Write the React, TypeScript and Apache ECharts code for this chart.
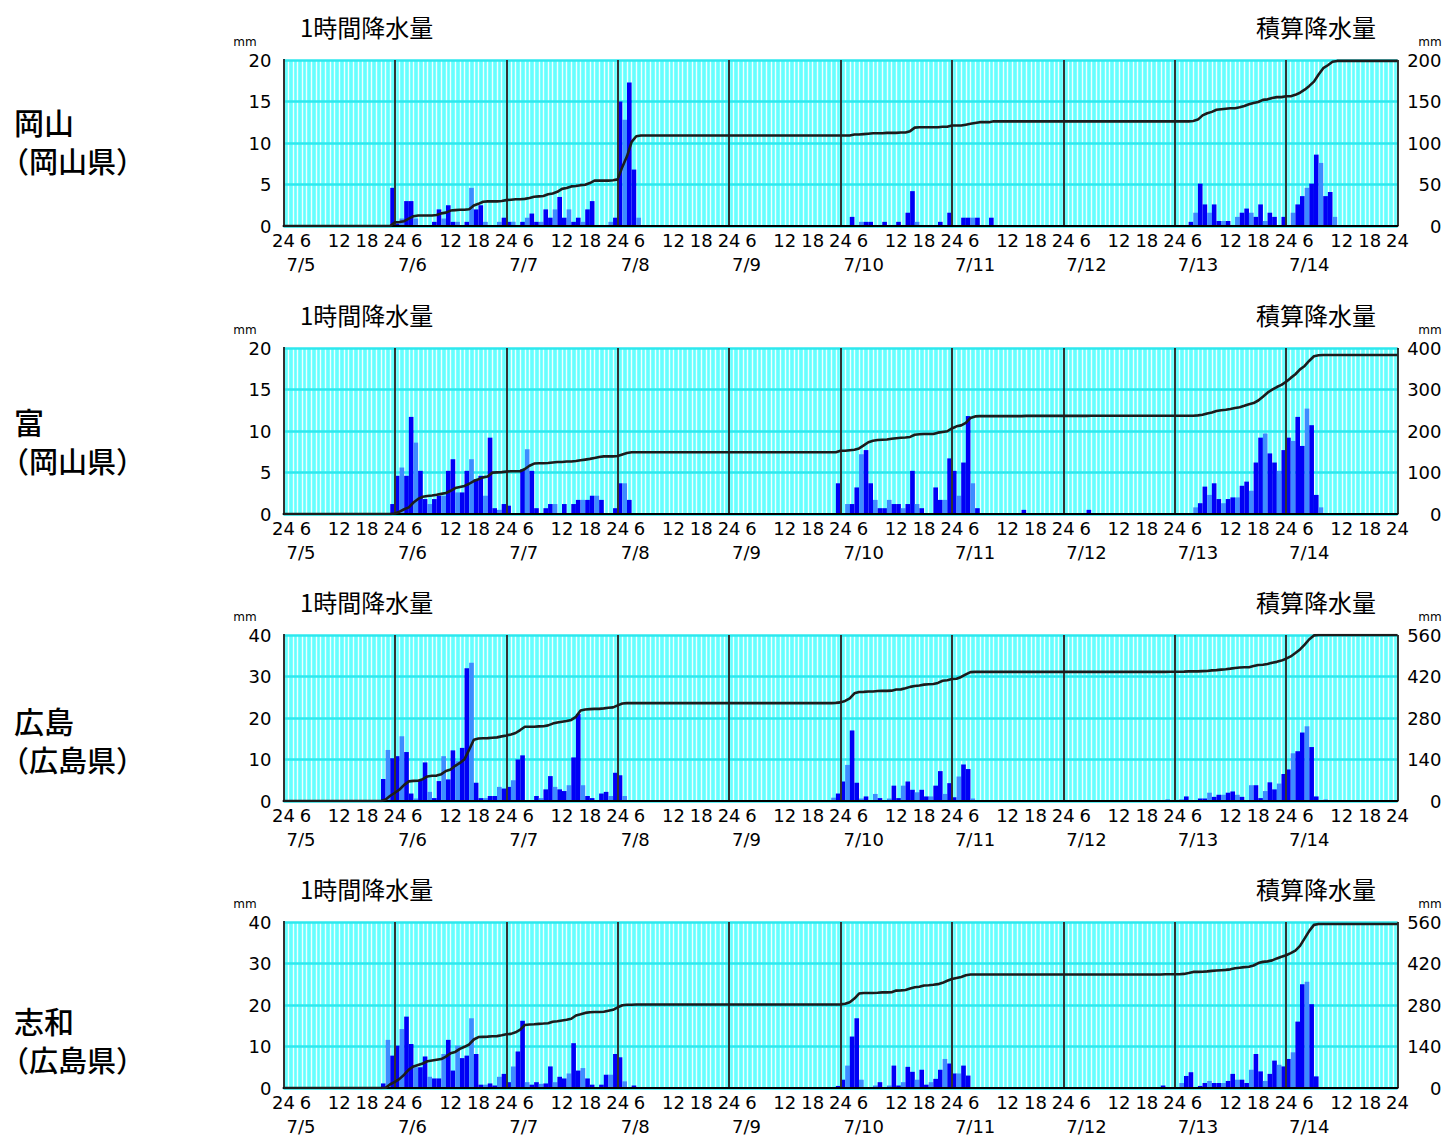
import React, { useEffect, useRef } from 'react';
import * as echarts from 'echarts';

const FONT = "'Noto Sans CJK JP', 'Noto Sans', sans-serif";
const NUM_FONT = "'DejaVu Sans', 'Liberation Sans', sans-serif";

// ---------- data ----------
const dates = ['7/5', '7/6', '7/7', '7/8', '7/9', '7/10', '7/11', '7/12', '7/13', '7/14'];
const hourTickNames = ['24', '6', '12', '18'];
const stations = ['岡山', '富', '広島', '志和'];
const prefectures = ['（岡山県）', '（岡山県）', '（広島県）', '（広島県）'];
const hourlyAxisMax = [20, 20, 40, 40];
const hourlyAxisStep = [5, 5, 10, 10];
const totalAxisMax = [200, 400, 560, 560];
const totalAxisStep = [50, 100, 140, 140];

// hourly rainfall (mm), one row per day 7/5 .. 7/14, trailing zeros omitted
const okayamaRain: number[][] = [
  [0, 0, 0, 0, 0, 0, 0, 0, 0, 0, 0, 0, 0, 0, 0, 0, 0, 0, 0, 0, 0, 0, 0, 4.6],
  [0.3, 0.9, 3.0, 3.0, 0.9, 0, 0, 0, 0.5, 2.0, 0.9, 2.5, 0.5, 0.5, 0, 0.5, 4.6, 2.0, 2.5, 0.5, 0, 0, 0.5, 1.0],
  [0.5, 0.5, 0, 0.5, 1.0, 1.5, 0.5, 0.5, 2.0, 1.0, 2.0, 3.5, 1.0, 2.0, 0.5, 1.0, 0.5, 2.0, 3.0, 0, 0, 0, 0.5, 1.0],
  [15.0, 12.8, 17.3, 6.8, 1.0],
  [],
  [0, 0, 1.1, 0, 0.5, 0.5, 0.5, 0, 0, 0.5, 0, 0, 0.5, 0, 1.6, 4.2, 0.5, 0, 0, 0, 0, 0.5, 0, 1.6],
  [0, 0, 1.0, 1.0, 1.0, 1.0, 0, 0, 1.0],
  [],
  [0, 0, 0, 0.5, 1.6, 5.1, 2.6, 1.6, 2.6, 0.6, 0.6, 0.6, 0, 1.1, 1.6, 2.1, 1.6, 1.1, 2.6, 0.6, 1.6, 1.1, 0, 1.1],
  [0, 1.6, 2.6, 3.6, 4.6, 5.1, 8.6, 7.6, 3.6, 4.1, 1.1],
];

const tomiRain: number[][] = [
  [0, 0, 0, 0, 0, 0, 0, 0, 0, 0, 0, 0, 0, 0, 0, 0, 0, 0, 0, 0, 0, 0, 0, 1.2],
  [4.6, 5.6, 4.6, 11.7, 8.6, 5.2, 1.8, 1.2, 1.8, 2.2, 2.2, 5.2, 6.6, 2.6, 2.6, 5.2, 6.6, 4.2, 4.6, 2.2, 9.2, 0.7, 0.5, 1.2],
  [1.0, 0, 0, 5.4, 7.8, 5.2, 0.7, 0, 0.7, 1.2, 1.2, 0, 1.2, 0, 1.2, 1.7, 1.7, 1.7, 2.2, 2.2, 1.7, 0, 0, 0.7],
  [3.7, 3.7, 1.7],
  [0, 0, 0, 0, 0, 0, 0, 0, 0, 0, 0, 0, 0, 0, 0, 0, 0, 0, 0, 0, 0, 0, 0, 3.7],
  [0, 1.2, 1.2, 3.2, 7.2, 7.7, 3.7, 1.7, 0.7, 0.7, 1.7, 1.2, 1.2, 0.7, 1.2, 5.2, 1.2, 0.7, 0, 0, 3.2, 1.7, 1.7, 6.7],
  [5.2, 2.2, 6.2, 11.8, 3.7, 0.7, 0, 0, 0, 0, 0, 0, 0, 0, 0, 0.5],
  [0, 0, 0, 0, 0, 0.5],
  [0, 0, 0, 0, 0.8, 1.3, 3.3, 2.3, 3.7, 1.8, 1.3, 1.8, 2.0, 2.0, 3.4, 3.9, 2.8, 6.2, 9.2, 9.7, 7.3, 6.2, 5.2, 7.7],
  [9.2, 8.8, 11.7, 8.2, 12.7, 10.7, 2.3, 0.8],
];

const hiroshimaRain: number[][] = [
  [0, 0, 0, 0, 0, 0, 0, 0, 0, 0, 0, 0, 0, 0, 0, 0, 0, 0, 0, 0, 0, 5.3, 12.3, 10.3],
  [10.8, 15.6, 11.8, 1.8, 0.6, 5.0, 9.3, 2.2, 0.7, 4.8, 10.8, 5.2, 12.2, 9.6, 12.8, 32.0, 33.3, 4.4, 0.7, 0.7, 1.2, 1.2, 3.4, 3.0],
  [3.4, 5.0, 10.0, 11.0, 0, 0, 1.2, 0.7, 2.8, 6.0, 3.4, 2.8, 2.4, 3.8, 10.5, 21.0, 3.8, 1.2, 0.7, 0, 1.8, 2.2, 1.2, 6.8],
  [6.2, 1.2],
  [0, 0, 0, 0, 0, 0, 0, 0, 0, 0, 0, 0, 0, 0, 0, 0, 0, 0, 0, 0, 0, 0, 0.8, 1.8],
  [4.7, 8.7, 17.0, 4.4, 0.6, 1.1, 0, 1.7, 0.7, 0, 0.6, 3.7, 0.7, 3.7, 4.7, 2.7, 2.1, 2.7, 1.1, 1.1, 3.7, 7.2, 1.7, 4.3],
  [0.9, 5.9, 8.8, 7.7, 0.6],
  [0, 0, 0, 0, 0, 0, 0, 0, 0, 0, 0, 0, 0, 0, 0, 0, 0, 0, 0, 0, 0, 0, 0.4],
  [0, 0.4, 1.1, 0, 0, 0.6, 0.6, 2.0, 1.0, 1.5, 1.5, 2.0, 2.3, 1.5, 1.0, 0, 3.8, 3.8, 0.7, 2.4, 4.5, 2.8, 4.2, 6.5],
  [7.6, 11.5, 12.0, 16.5, 18.0, 13.0, 1.1, 0, 0.3],
];

const shiwaRain: number[][] = [
  [0, 0, 0, 0, 0, 0, 0, 0, 0, 0, 0, 0, 0, 0, 0, 0, 0, 0, 0, 0, 0, 1.1, 11.6, 7.8],
  [10.2, 14.2, 17.2, 10.6, 5.0, 5.0, 7.6, 2.7, 2.3, 2.3, 8.2, 11.6, 4.2, 10.2, 7.2, 7.8, 16.8, 8.2, 0.8, 0.8, 1.1, 0.6, 2.7, 3.4],
  [1.4, 5.2, 8.8, 16.2, 1.4, 0.8, 1.4, 1.0, 1.1, 5.2, 1.4, 2.7, 2.3, 3.5, 10.8, 4.2, 4.8, 2.3, 0.8, 0, 0.8, 3.2, 3.2, 8.2],
  [7.4, 1.6, 0, 0.6],
  [0, 0, 0, 0, 0, 0, 0, 0, 0, 0, 0, 0, 0, 0, 0, 0, 0, 0, 0, 0, 0, 0, 0, 0.5],
  [2.0, 5.4, 12.4, 16.8, 2.0, 0, 0, 0.6, 1.4, 0, 0.6, 5.4, 0.6, 1.4, 5.1, 3.9, 2.0, 4.4, 0.8, 1.4, 2.2, 4.4, 7.0, 5.9],
  [3.5, 3.5, 5.4, 3.0],
  [0, 0, 0, 0, 0, 0, 0, 0, 0, 0, 0, 0, 0, 0, 0, 0, 0, 0, 0, 0, 0, 0.6],
  [0, 1.2, 2.9, 3.8, 0, 0.5, 1.2, 1.7, 1.2, 1.2, 1.2, 1.7, 3.4, 2.0, 2.0, 1.2, 4.4, 8.2, 4.0, 1.7, 3.4, 6.6, 5.6, 5.2],
  [7.0, 8.6, 16.0, 25.0, 25.6, 20.2, 2.8],
];

const stationRain = [okayamaRain, tomiRain, hiroshimaRain, shiwaRain];

// ---------- layout ----------
const HOURS = 240;
const GRID_LEFT = 283.5;
const GRID_WIDTH = 1114;
const GRID_HEIGHT = 166;
const PANEL_TOPS = [60, 348, 635, 922];
const LABEL_MID_Y = [140.5, 440, 739, 1039];

const DARK_BLUE = '#0000f5';
const LIGHT_BLUE = '#3d8cff';

function flattenDays(days: number[][]): number[] {
  const out: number[] = [];
  days.forEach((d) => {
    for (let i = 0; i < 24; i++) out.push(i < d.length ? d[i] : 0);
  });
  return out;
}

function cumulative(hourly: number[]): number[][] {
  const pts: number[][] = [[0, 0]];
  let s = 0;
  hourly.forEach((v, i) => {
    s += v;
    pts.push([i + 1, Math.round(s * 10) / 10]);
  });
  return pts;
}

function textEl(text: string, x: number, y: number, size: number, align: string, family: string, weight: number | string = 'normal') {
  return {
    type: 'text',
    x,
    y,
    style: {
      text,
      fontSize: size,
      fontWeight: weight,
      fontFamily: family,
      fill: '#000',
      align,
      verticalAlign: 'middle',
      textAlign: align,
      textVerticalAlign: 'middle',
    },
  };
}

function stationLabel(name: string, pref: string, y: number) {
  return {
    type: 'text',
    x: 0,
    y,
    style: {
      text: '{n|' + name + '}\n{p|' + pref + '}',
      fill: '#000',
      align: 'left',
      verticalAlign: 'middle',
      textAlign: 'left',
      textVerticalAlign: 'middle',
      rich: {
        n: { fontSize: 30, fontWeight: 500, fontFamily: FONT, fill: '#000', lineHeight: 39, padding: [0, 0, 0, 14] },
        p: { fontSize: 29, fontWeight: 500, fontFamily: FONT, fill: '#000', lineHeight: 39 },
      },
    },
  };
}

function buildOption() {
  const grid: any[] = [];
  const xAxis: any[] = [];
  const yAxis: any[] = [];
  const series: any[] = [];
  const graphic: any[] = [];
  const categories = Array.from({ length: HOURS }, (_, i) => String(i));

  stations.forEach((name, k) => {
    const top = PANEL_TOPS[k];
    const hourly = flattenDays(stationRain[k]);
    grid.push({
      left: GRID_LEFT,
      top,
      width: GRID_WIDTH,
      height: GRID_HEIGHT,
      show: true,
      backgroundColor: '#66ffff',
      borderWidth: 0,
    });
    const xb = xAxis.length;
    // category axis for the bars
    xAxis.push({
      gridIndex: k,
      type: 'category',
      data: categories,
      boundaryGap: true,
      position: 'bottom',
      axisLine: { show: false, onZero: false },
      axisTick: { show: false },
      axisLabel: { show: false },
      splitLine: { show: false },
    });
    // hourly white grid lines
    xAxis.push({
      gridIndex: k,
      type: 'value',
      min: 0,
      max: HOURS,
      interval: 1,
      position: 'bottom',
      z: 0,
      axisLine: { show: false, onZero: false },
      axisTick: { show: false },
      axisLabel: { show: false },
      splitLine: { show: true, lineStyle: { color: '#ffffff', width: 1.4, opacity: 0.9 } },
    });
    // day lines + date labels
    xAxis.push({
      gridIndex: k,
      type: 'value',
      min: 0,
      max: HOURS,
      interval: 24,
      position: 'bottom',
      z: 3,
      axisLine: { show: true, onZero: false, lineStyle: { color: '#000', width: 2 } },
      axisTick: { show: false },
      axisLabel: {
        show: true,
        margin: 28,
        align: 'left',
        padding: [0, 0, 0, 3],
        fontSize: 18,
        lineHeight: 20,
        fontFamily: NUM_FONT,
        color: '#000',
        formatter: (v: number) => (v >= HOURS ? '' : dates[Math.round(v / 24)]),
      },
      splitLine: { show: true, lineStyle: { color: '#333', width: 2 } },
    });
    // hour labels
    xAxis.push({
      gridIndex: k,
      type: 'value',
      min: 0,
      max: HOURS,
      interval: 6,
      position: 'bottom',
      z: 3,
      axisLine: { show: false, onZero: false },
      axisTick: { show: false },
      axisLabel: {
        show: true,
        margin: 4,
        fontSize: 18,
        lineHeight: 20,
        fontFamily: NUM_FONT,
        color: '#000',
        formatter: (v: number) => {
          const t = hourTickNames[Math.round((v % 24) / 6)];
          return t === '6' ? '{s|6}' : t;
        },
        rich: {
          s: { fontSize: 18, lineHeight: 20, fontFamily: NUM_FONT, color: '#000', padding: [0, 12, 0, 0] },
        },
      },
      splitLine: { show: false },
    });

    const yb = yAxis.length;
    yAxis.push({
      gridIndex: k,
      type: 'value',
      position: 'left',
      min: 0,
      max: hourlyAxisMax[k],
      interval: hourlyAxisStep[k],
      z: 1,
      axisLine: { show: true, onZero: false, lineStyle: { color: '#000', width: 2 } },
      axisTick: { show: false },
      axisLabel: { margin: 12, padding: [6, 0, 0, 0], fontSize: 18, fontFamily: NUM_FONT, color: '#000' },
      splitLine: { show: true, lineStyle: { color: '#2ee8ee', width: 2.5 } },
    });
    yAxis.push({
      gridIndex: k,
      type: 'value',
      position: 'right',
      min: 0,
      max: totalAxisMax[k],
      interval: totalAxisStep[k],
      z: 1,
      axisLine: { show: true, onZero: false, lineStyle: { color: '#9a9a9a', width: 1 } },
      axisTick: { show: false },
      axisLabel: { margin: 44, align: 'right', padding: [6, 0, 0, 0], fontSize: 18, fontFamily: NUM_FONT, color: '#000' },
      splitLine: { show: false },
    });

    series.push({
      type: 'bar',
      name: name + '1時間降水量',
      xAxisIndex: xb,
      yAxisIndex: yb,
      data: hourly,
      barWidth: '100%',
      z: 2,
      itemStyle: {
        color: (p: any) => (p.dataIndex % 3 === 1 ? LIGHT_BLUE : DARK_BLUE),
      },
    });
    series.push({
      type: 'line',
      name: name + '積算降水量',
      xAxisIndex: xb + 2,
      yAxisIndex: yb + 1,
      data: cumulative(hourly),
      symbol: 'none',
      z: 5,
      lineStyle: { color: '#1c1c1c', width: 2.6 },
    });

    graphic.push(textEl('1時間降水量', 300, top - 34, 24, 'left', FONT));
    graphic.push(textEl('積算降水量', 1376, top - 34, 24, 'right', FONT));
    graphic.push(textEl('mm', 245, top - 18, 12, 'center', NUM_FONT));
    graphic.push(textEl('mm', 1430, top - 18, 12, 'center', NUM_FONT));
    graphic.push(stationLabel(name, prefectures[k], LABEL_MID_Y[k]));
  });

  return {
    animation: false,
    backgroundColor: '#ffffff',
    grid,
    xAxis,
    yAxis,
    series,
    graphic,
  };
}

export default function App() {
  const ref = useRef<HTMLDivElement>(null);
  useEffect(() => {
    if (!ref.current) return;
    const chart = echarts.init(ref.current, undefined, { renderer: 'svg' });
    chart.setOption(buildOption() as any);
    return () => chart.dispose();
  }, []);
  return (
    <div
      ref={ref}
      style={{ position: 'absolute', left: 0, top: 0, width: 1447, height: 1136 }}
    />
  );
}
